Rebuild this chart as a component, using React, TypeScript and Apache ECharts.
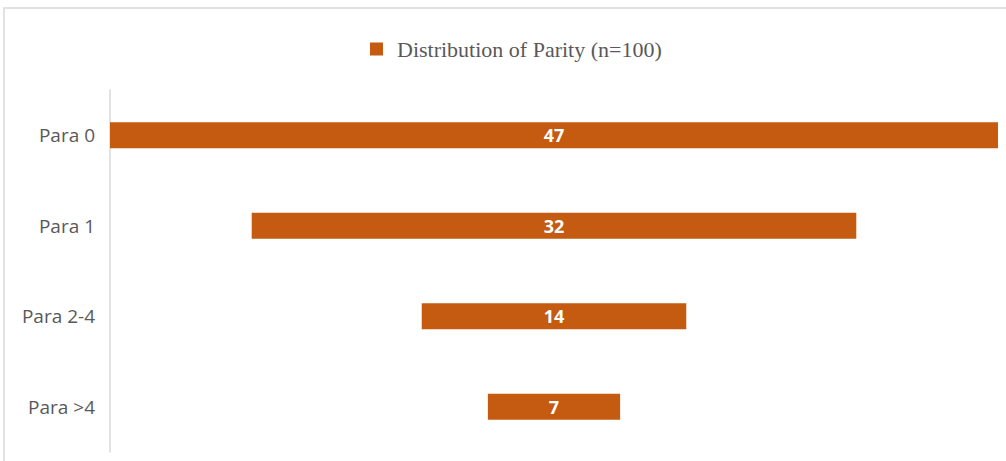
import React, { useEffect, useRef } from "react";
import * as echarts from "echarts";

const categories = ["Para 0", "Para 1", "Para 2-4", "Para >4"];
const values = [47, 32, 14, 7];
const seriesName = "Distribution of Parity (n=100)";
const maxValue = 47;

export default function App() {
  const ref = useRef<HTMLDivElement>(null);
  useEffect(() => {
    if (!ref.current) return;
    const chart = echarts.init(ref.current, null, { renderer: "svg" });
    const offsets = values.map((v) => (maxValue - v) / 2);
    chart.setOption({
      animation: false,
      backgroundColor: "#ffffff",
      graphic: [
        {
          type: "rect",
          shape: { x: 4, y: 8, width: 1010, height: 460 },
          style: { fill: "none", stroke: "#d9d9d9", lineWidth: 1.5 },
          silent: true,
        },
      ],
      legend: {
        data: [seriesName],
        left: 370,
        top: 38,
        padding: 0,
        itemWidth: 13,
        itemHeight: 13,
        itemGap: 10,
        icon: "rect",
        textStyle: {
          fontFamily: "Liberation Serif",
          fontSize: 22,
          lineHeight: 22,
          color: "#595959",
          padding: [0, 0, 0, 9],
        },
      },
      grid: { left: 110, right: 8, top: 90, bottom: 9, containLabel: false },
      xAxis: {
        type: "value",
        min: 0,
        max: maxValue,
        show: false,
      },
      yAxis: {
        type: "category",
        data: categories,
        inverse: true,
        axisLine: { show: true, lineStyle: { color: "#d9d9d9", width: 1.5 } },
        axisTick: { show: false },
        axisLabel: {
          fontFamily: "Open Sans",
          fontSize: 19,
          color: "#595959",
          margin: 15,
        },
        splitLine: { show: false },
      },
      series: [
        {
          name: "offset",
          type: "bar",
          stack: "a",
          data: offsets,
          itemStyle: { color: "transparent" },
          barCategoryGap: "71%",
          silent: true,
          label: { show: false },
        },
        {
          name: seriesName,
          type: "bar",
          stack: "a",
          data: values,
          barCategoryGap: "71%",
          itemStyle: { color: "#C55A11" },
          label: {
            show: true,
            position: "inside",
            color: "#ffffff",
            fontFamily: "Open Sans",
            fontWeight: "bold",
            fontSize: 18,
          },
        },
      ],
    });
    return () => chart.dispose();
  }, []);
  return (
    <div
      ref={ref}
      style={{ position: "fixed", left: 0, top: 0, width: 1006, height: 461 }}
    />
  );
}
